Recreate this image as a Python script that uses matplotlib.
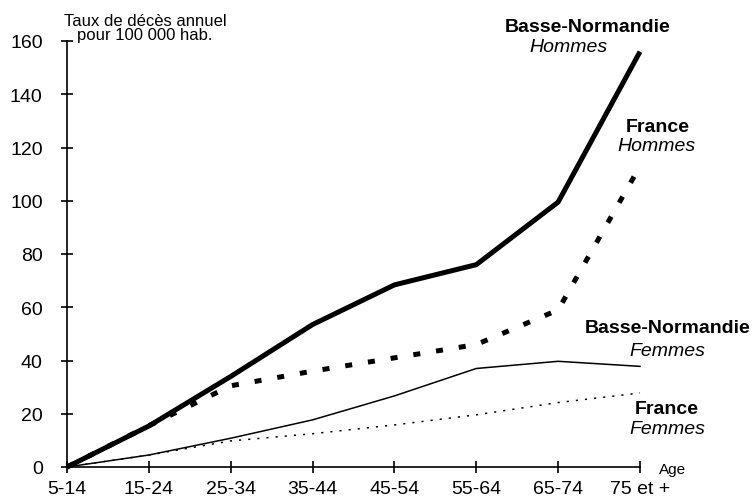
import matplotlib
matplotlib.use("Agg")
import matplotlib.pyplot as plt

plt.rcParams['font.family'] = ['Liberation Sans', 'DejaVu Sans']

ages = ["5-14", "15-24", "25-34", "35-44", "45-54", "55-64", "65-74", "75 et +"]
bn_hommes = [0, 15.4, 34, 53.5, 68.4, 76, 99.5, 156]
fr_hommes = [0, 15.5, 30.5, 36, 41, 46, 59, 113]
bn_femmes = [0, 4.5, 10.8, 17.7, 26.7, 37, 39.7, 37.8]
fr_femmes = [0, 4.5, 9.8, 12.5, 15.8, 19.6, 24.2, 27.8]
y_ticks = [0, 20, 40, 60, 80, 100, 120, 140, 160]

fig = plt.figure(figsize=(7.53, 5.02), dpi=100)
ax = fig.add_axes([67/753, 1-468/502, (640-67)/753, (468-42)/502])
x = list(range(len(ages)))

ax.plot(x, bn_hommes, color="black", lw=3.6, solid_capstyle="butt", clip_on=False)
ax.plot(x, fr_hommes, color="black", lw=3.6, dashes=(1.4, 3.2), dash_capstyle="butt", clip_on=False)
ax.plot(x, bn_femmes, color="black", lw=1.1, clip_on=False)
ax.plot(x, fr_femmes, color="black", lw=1.1, dashes=(1.4, 4.6), clip_on=False)

ax.set_xlim(0, 7)
ax.set_ylim(0, 160)
ax.set_xticks(x)
ax.set_xticklabels(ages, fontsize=14)
ax.set_yticks(y_ticks)
ax.set_yticklabels([str(v) for v in y_ticks], fontsize=14)
ax.tick_params(direction="inout", length=9, width=1.2, colors="black")
ax.tick_params(axis="y", pad=13)
ax.tick_params(axis="x", pad=5)
for s in ["top", "right"]:
    ax.spines[s].set_visible(False)
for s in ["left", "bottom"]:
    ax.spines[s].set_linewidth(1.2)

fig.text(145/753, 1-14/502, "Taux de décès annuel\npour 100 000 hab.",
         ha="center", va="top", fontsize=12, linespacing=0.9)
fig.text(673/753, 1-470/502, "Age", ha="center", va="center", fontsize=11)

series_labels = [
    (588, 27, "Basse-Normandie", "bold"),
    (568, 48, "Hommes", "italic"),
    (658, 128, "France", "bold"),
    (656, 147, "Hommes", "italic"),
    (668, 329, "Basse-Normandie", "bold"),
    (667, 352, "Femmes", "italic"),
    (667, 409, "France", "bold"),
    (667, 430, "Femmes", "italic"),
]
for xc, yc, txt, kind in series_labels:
    if kind == "bold":
        fig.text(xc/753, 1-yc/502, txt, ha="center", va="center", fontsize=14, fontweight="bold")
    else:
        fig.text(xc/753, 1-yc/502, txt, ha="center", va="center", fontsize=14, style="italic")

fig.savefig("out.png", dpi=100)
